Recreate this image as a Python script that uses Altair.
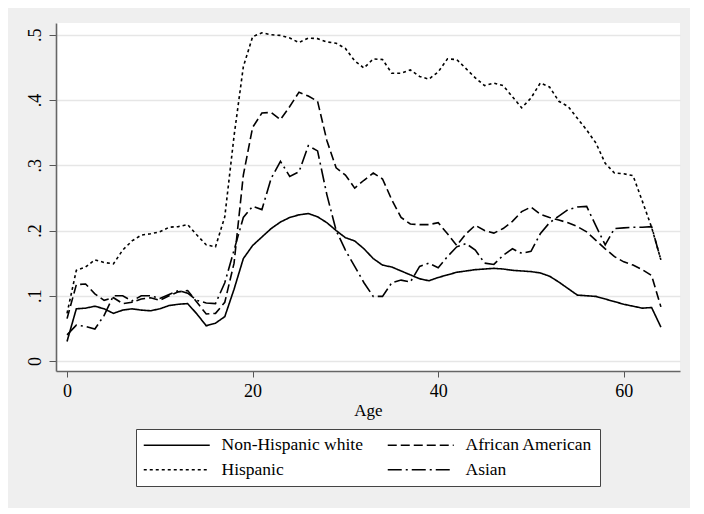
import altair as alt
import pandas as pd

ages = list(range(65))

white = [0.030, 0.080, 0.081, 0.084, 0.080, 0.073, 0.078, 0.080, 0.078, 0.077,
         0.080, 0.085, 0.087, 0.088, 0.072, 0.054, 0.058, 0.068, 0.110, 0.157,
         0.177, 0.190, 0.203, 0.213, 0.220, 0.224, 0.226, 0.221, 0.212, 0.200,
         0.189, 0.184, 0.172, 0.157, 0.147, 0.144, 0.138, 0.132, 0.126, 0.123,
         0.128, 0.132, 0.136, 0.138, 0.140, 0.141, 0.142, 0.141, 0.139, 0.138,
         0.137, 0.135, 0.130, 0.121, 0.111, 0.101, 0.100, 0.099, 0.095, 0.091,
         0.087, 0.084, 0.081, 0.082, 0.052]

african = [0.065, 0.117, 0.118, 0.103, 0.093, 0.097, 0.088, 0.090, 0.095, 0.097,
           0.093, 0.100, 0.106, 0.108, 0.090, 0.072, 0.073, 0.090, 0.150, 0.285,
           0.358, 0.380, 0.381, 0.370, 0.390, 0.412, 0.406, 0.398, 0.338, 0.296,
           0.285, 0.265, 0.277, 0.288, 0.279, 0.247, 0.220, 0.210, 0.209, 0.209,
           0.212, 0.195, 0.177, 0.195, 0.208, 0.200, 0.196, 0.203, 0.214, 0.229,
           0.236, 0.225, 0.220, 0.216, 0.212, 0.206, 0.198, 0.185, 0.172, 0.160,
           0.152, 0.147, 0.140, 0.131, 0.083]

hispanic = [0.073, 0.139, 0.144, 0.155, 0.151, 0.149, 0.170, 0.184, 0.193, 0.195,
            0.198, 0.205, 0.206, 0.209, 0.193, 0.178, 0.175, 0.221, 0.345, 0.451,
            0.497, 0.503, 0.500, 0.499, 0.495, 0.488, 0.495, 0.494, 0.489, 0.487,
            0.479, 0.460, 0.449, 0.463, 0.462, 0.441, 0.441, 0.446, 0.436, 0.432,
            0.443, 0.463, 0.462, 0.448, 0.434, 0.422, 0.426, 0.422, 0.405, 0.388,
            0.403, 0.426, 0.420, 0.398, 0.390, 0.372, 0.354, 0.334, 0.303, 0.288,
            0.287, 0.284, 0.245, 0.205, 0.155]

asian = [0.040, 0.055, 0.053, 0.049, 0.070, 0.100, 0.100, 0.092, 0.100, 0.100,
         0.096, 0.102, 0.108, 0.104, 0.093, 0.089, 0.088, 0.120, 0.170, 0.220,
         0.237, 0.232, 0.280, 0.306, 0.283, 0.290, 0.330, 0.322, 0.255, 0.200,
         0.170, 0.145, 0.120, 0.099, 0.099, 0.120, 0.124, 0.121, 0.145, 0.150,
         0.143, 0.160, 0.175, 0.180, 0.170, 0.150, 0.148, 0.162, 0.172, 0.165,
         0.168, 0.195, 0.212, 0.222, 0.232, 0.236, 0.237, 0.207, 0.178, 0.203,
         0.204, 0.205, 0.205, 0.206, 0.155]

groups = ["Non-Hispanic white", "African American", "Hispanic", "Asian"]
series = [white, african, hispanic, asian]
dashes = [[1, 0], [9, 4], [3, 3], [14, 4, 2, 4]]

x_ticks = [0, 20, 40, 60]
y_ticks = [0, 0.1, 0.2, 0.3, 0.4, 0.5]

rows = []
for g, vals in zip(groups, series):
    for a, v in zip(ages, vals):
        rows.append({"age": a, "value": v, "group": g})
df = pd.DataFrame(rows)

SERIF = "Liberation Serif"

chart = alt.Chart(df).mark_line(color="black", strokeWidth=1.6, strokeCap="butt").encode(
    x=alt.X("age:Q",
            scale=alt.Scale(domain=[-1.19, 66.06], nice=False, zero=False),
            axis=alt.Axis(values=x_ticks, title="Age", grid=False,
                          labelFont=SERIF, labelFontSize=18, labelColor="black",
                          labelPadding=5,
                          titleFont=SERIF, titleFontSize=17, titleFontWeight="normal",
                          titleColor="black", titlePadding=2,
                          tickColor="#555", tickSize=6, tickWidth=1,
                          domainColor="#666", domainWidth=1.6)),
    y=alt.Y("value:Q",
            scale=alt.Scale(domain=[-0.0153, 0.518], nice=False, zero=False),
            axis=alt.Axis(values=y_ticks, title=None,
                          labelExpr="datum.value == 0 ? '0' : '.' + round(datum.value * 10)",
                          labelAngle=270, labelAlign="center", labelBaseline="alphabetic",
                          labelFont=SERIF, labelFontSize=18, labelColor="black",
                          labelPadding=9,
                          tickColor="#555", tickSize=7, tickWidth=1,
                          domainColor="#666", domainWidth=1.6,
                          grid=True, gridColor="#e6e6e6", gridWidth=1.5)),
    strokeDash=alt.StrokeDash("group:N",
                              scale=alt.Scale(domain=groups, range=dashes),
                              legend=alt.Legend(orient="none", legendX=80, legendY=406,
                                                direction="horizontal", columns=2,
                                                title=None,
                                                symbolType="M-1.143,0H8.286",
                                                symbolSize=196, symbolStrokeWidth=1.5,
                                                symbolStrokeColor="black",
                                                labelFont=SERIF, labelFontSize=17.5,
                                                labelColor="black", labelOffset=61,
                                                fillColor="white", strokeColor="#444",
                                                padding=7, columnPadding=21, rowPadding=6,
                                                gridAlign="each")),
    order="age:Q",
).properties(
    width=624, height=348,
    autosize=alt.AutoSizeParams(type="none"),
    padding={"left": 48, "top": 15, "right": 10, "bottom": 137},
    background="#efefef",
).configure_view(fill="white", stroke=None)

chart.save("out.html", embed_options={"renderer": "svg", "actions": False})
